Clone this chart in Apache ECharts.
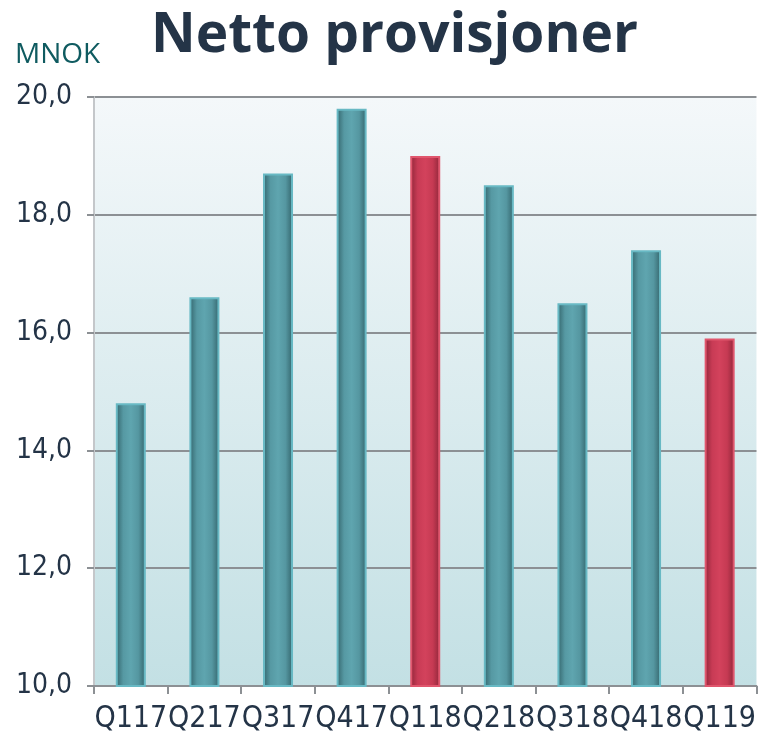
<!DOCTYPE html>
<html>
<head>
<meta charset="utf-8">
<script src="https://cdn.jsdelivr.net/npm/echarts@6/dist/echarts.min.js"></script>
<style>
  html, body { margin: 0; padding: 0; background: #fff; }
  #chart { width: 759px; height: 734px; }
</style>
</head>
<body>
<div id="chart"></div>
<script>
// quarters and net commissions (MNOK)
const categories = ['Q117', 'Q217', 'Q317', 'Q417', 'Q118', 'Q218', 'Q318', 'Q418', 'Q119'];
const values = [14.8, 16.6, 18.7, 19.8, 19.0, 18.5, 16.5, 17.4, 15.9];
// first quarter of each year is drawn in red
const highlighted = ['Q118', 'Q119'];

const tealFill = {
  type: 'linear', x: 0, y: 0, x2: 1, y2: 0,
  colorStops: [
    { offset: 0, color: '#33646b' },
    { offset: 0.25, color: '#5699a3' },
    { offset: 0.5, color: '#5fa5af' },
    { offset: 0.75, color: '#5597a1' },
    { offset: 1, color: '#33646b' }
  ]
};
const redFill = {
  type: 'linear', x: 0, y: 0, x2: 1, y2: 0,
  colorStops: [
    { offset: 0, color: '#8e2639' },
    { offset: 0.25, color: '#c83b55' },
    { offset: 0.5, color: '#d3425c' },
    { offset: 0.75, color: '#c63a53' },
    { offset: 1, color: '#8e2639' }
  ]
};

const chart = echarts.init(document.getElementById('chart'));

chart.setOption({
  animation: false,
  title: [
    {
      text: 'Netto provisjoner',
      left: 146, top: 4,
      textStyle: { fontFamily: 'Open Sans', fontWeight: 700, fontSize: 55, color: '#243447' }
    },
    {
      text: 'MNOK',
      left: 10, top: 36,
      textStyle: { fontFamily: 'Open Sans', fontWeight: 400, fontSize: 28, color: '#0f5b60' }
    }
  ],
  grid: {
    left: 94, right: 2, top: 97, bottom: 46,
    show: true,
    borderWidth: 0,
    backgroundColor: {
      type: 'linear', x: 0, y: 0, x2: 0, y2: 1,
      colorStops: [
        { offset: 0, color: '#f4f8fa' },
        { offset: 1, color: '#c3e0e4' }
      ]
    }
  },
  xAxis: {
    type: 'category',
    data: categories,
    axisLine: { lineStyle: { color: '#8c9094', width: 2 } },
    axisTick: { show: true, length: 8, lineStyle: { color: '#8c9094', width: 2 } },
    axisLabel: {
      interval: 0,
      fontFamily: 'DejaVu Sans Condensed', fontSize: 30, color: '#243447', margin: 18
    }
  },
  yAxis: {
    type: 'value',
    min: 10, max: 20, interval: 2,
    axisLine: { show: true, lineStyle: { color: '#c4c7ca', width: 2 } },
    axisTick: { show: true, length: 7, lineStyle: { color: '#8c9094', width: 2 } },
    splitLine: { lineStyle: { color: '#8c9094', width: 2 } },
    axisLabel: {
      fontFamily: 'DejaVu Sans Condensed', fontSize: 28, color: '#243447', margin: 22,
      formatter: v => v.toFixed(1).replace('.', ',')
    }
  },
  series: [{
    type: 'bar',
    barWidth: 30,
    data: values.map((v, i) => {
      const red = highlighted.includes(categories[i]);
      return {
        value: v,
        itemStyle: {
          color: red ? redFill : tealFill,
          borderColor: red ? '#e0566d' : '#68b9c4',
          borderWidth: 2
        }
      };
    })
  }]
});
</script>
</body>
</html>
